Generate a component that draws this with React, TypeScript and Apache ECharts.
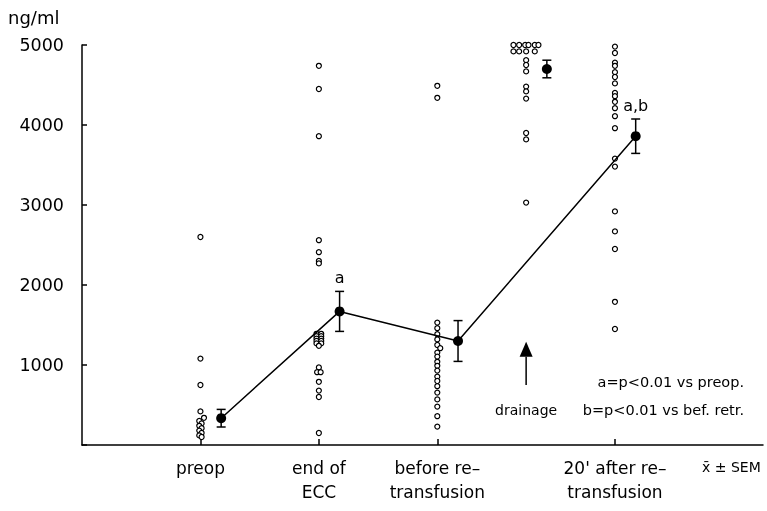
import React, { useEffect, useRef } from "react";
import * as echarts from "echarts";

// ---- data ----
const categories = ["preop", "end of\nECC", "before re–\ntransfusion", "20' after re–\ntransfusion"];
const categoryX = [1, 2, 3, 4.5];
const drainageX = 3.75;
const meanOffset = 0.175;

const preopValues = [2600, 1080, 750, 420, 340, 300, 270, 240, 210, 180, 150, 120, 100];
const preopJitter = [0, 0, 0, 0, 0.03, -0.01, 0.01, -0.01, 0.01, -0.01, 0.01, -0.01, 0.01];

const eccValues = [4740, 4450, 3860, 2560, 2410, 2300, 2270, 1390, 1390, 1360, 1360, 1330, 1330, 1300, 1300, 1270, 1270, 1240, 970, 910, 910, 790, 680, 600, 150];
const eccJitter = [0, 0, 0, 0, 0, 0, 0, -0.02, 0.02, -0.02, 0.02, -0.02, 0.02, -0.02, 0.02, -0.02, 0.02, 0, 0, -0.015, 0.015, 0, 0, 0, 0];

const beforeValues = [4490, 4340, 1530, 1460, 1385, 1320, 1250, 1210, 1155, 1105, 1040, 990, 930, 855, 800, 735, 655, 570, 480, 360, 230];
const beforeJitter = [0, 0, 0, 0, 0, 0, 0, 0.025, 0, 0, 0, 0, 0, 0, 0, 0, 0, 0, 0, 0, 0];

const drainageValues = [5000, 5000, 5000, 5000, 5000, 5000, 4920, 4920, 4920, 4920, 4810, 4750, 4670, 4480, 4420, 4330, 3900, 3820, 3030];
const drainageJitter = [-0.107, -0.059, -0.008, 0.02, 0.073, 0.104, -0.107, -0.059, 0.0, 0.073, 0, 0, 0, 0, 0, 0, 0, 0, 0];

const afterValues = [4980, 4900, 4780, 4740, 4660, 4600, 4520, 4400, 4360, 4290, 4210, 4110, 3960, 3580, 3480, 2920, 2670, 2450, 1790, 1450];
const afterJitter = [0, 0, 0, 0, 0, 0, 0, 0, 0, 0, 0, 0, 0, 0, 0, 0, 0, 0, 0, 0];

const means = [335, 1670, 1300, 3860];
const sems = [110, 250, 255, 215];
const sigLabels = ["", "a", "", "a,b"];
const drainageMean = 4700;
const drainageSem = 110;
const drainageArrow = [1290, 750]; // tip value, tail value

const FONT = "DejaVu Sans";

export default function App() {
  const ref = useRef<HTMLDivElement>(null);
  useEffect(() => {
    if (!ref.current) return;
    const chart = echarts.init(ref.current, null, { renderer: "svg" });

    const mk = (x: number, vals: number[], jit: number[]) => vals.map((v, i) => [x + jit[i], v]);
    const dots = [
      ...mk(categoryX[0], preopValues, preopJitter),
      ...mk(categoryX[1], eccValues, eccJitter),
      ...mk(categoryX[2], beforeValues, beforeJitter),
      ...mk(drainageX, drainageValues, drainageJitter),
      ...mk(categoryX[3], afterValues, afterJitter),
    ];
    const meanLine = categoryX.map((x, i) => [x + meanOffset, means[i]]);
    const errData = [
      ...categoryX.map((x, i) => [x + meanOffset, means[i], sems[i], i]),
      [drainageX + meanOffset, drainageMean, drainageSem, -1],
    ];

    const option: any = {
      animation: false,
      grid: { left: 82, right: 4, top: 45, bottom: 66 },
      xAxis: {
        type: "value",
        min: 0,
        max: 5.75,
        axisLine: { show: true, lineStyle: { color: "#000", width: 1.5 } },
        axisTick: { show: true, inside: true, length: 6, customValues: categoryX, lineStyle: { color: "#000", width: 1.5 } },
        axisLabel: {
          customValues: categoryX,
          formatter: (v: number) => {
            const i = categoryX.findIndex((c) => Math.abs(c - v) < 1e-6);
            return i >= 0 ? categories[i] : "";
          },
          color: "#000",
          fontFamily: FONT,
          fontSize: 17,
          lineHeight: 24,
          margin: 11,
        },
        splitLine: { show: false },
      },
      yAxis: {
        type: "value",
        min: 0,
        max: 5000,
        interval: 1000,
        axisLine: { show: true, lineStyle: { color: "#000", width: 1.5 } },
        axisTick: { show: true, inside: true, length: 5, lineStyle: { color: "#000", width: 1.5 } },
        axisLabel: {
          color: "#000",
          fontFamily: FONT,
          fontSize: 17.5,
          margin: 18,
          formatter: (v: number) => (v === 0 ? "" : String(v)),
        },
        splitLine: { show: false },
      },
      graphic: [
        { type: "text", left: 8, top: 8, style: { text: "ng/ml", font: `18px '${FONT}'`, fill: "#000" } },
        { type: "text", x: 702, y: 467, style: { text: "x̄ ± SEM", font: `14px '${FONT}'`, fill: "#000", textVerticalAlign: "middle" } },
        { type: "text", x: 744, y: 382, style: { text: "a=p<0.01 vs preop.", font: `14.5px '${FONT}'`, fill: "#000", textAlign: "right", textVerticalAlign: "middle" } },
        { type: "text", x: 744, y: 410, style: { text: "b=p<0.01 vs bef. retr.", font: `14.5px '${FONT}'`, fill: "#000", textAlign: "right", textVerticalAlign: "middle" } },
      ],
      series: [
        {
          type: "scatter",
          data: dots,
          symbol: "circle",
          symbolSize: 5,
          itemStyle: { color: "#fff", borderColor: "#000", borderWidth: 1.2, opacity: 1 },
          z: 2,
        },
        {
          type: "custom",
          data: errData,
          z: 3,
          renderItem: (params: any, api: any) => {
            const x = api.value(0);
            const m = api.value(1);
            const s = api.value(2);
            const li = api.value(3);
            const top = api.coord([x, m + s]);
            const bot = api.coord([x, m - s]);
            const hw = 4.5;
            const st = { stroke: "#000", lineWidth: 1.5 };
            const children: any[] = [
              { type: "line", shape: { x1: top[0], y1: top[1], x2: bot[0], y2: bot[1] }, style: st },
              { type: "line", shape: { x1: top[0] - hw, y1: top[1], x2: top[0] + hw, y2: top[1] }, style: st },
              { type: "line", shape: { x1: bot[0] - hw, y1: bot[1], x2: bot[0] + hw, y2: bot[1] }, style: st },
            ];
            const lbl = li >= 0 ? sigLabels[li] : "";
            if (lbl) {
              children.push({
                type: "text",
                x: top[0],
                y: top[1] - 6,
                style: { text: lbl, font: `16px '${FONT}'`, fill: "#000", textAlign: "center", textVerticalAlign: "bottom" },
              });
            }
            return { type: "group", children };
          },
        },
        {
          type: "line",
          data: meanLine,
          symbol: "circle",
          symbolSize: 10,
          itemStyle: { color: "#000" },
          lineStyle: { color: "#000", width: 1.5 },
          z: 4,
        },
        {
          type: "scatter",
          data: [[drainageX + meanOffset, drainageMean]],
          symbol: "circle",
          symbolSize: 10,
          itemStyle: { color: "#000", opacity: 1 },
          z: 4,
        },
        {
          type: "custom",
          data: [[drainageX, drainageArrow[0], drainageArrow[1]]],
          z: 3,
          renderItem: (params: any, api: any) => {
            const x = api.value(0);
            const tip = api.coord([x, api.value(1)]);
            const tail = api.coord([x, api.value(2)]);
            const headH = 15;
            const headW = 6.5;
            return {
              type: "group",
              children: [
                { type: "line", shape: { x1: tip[0], y1: tip[1] + headH, x2: tail[0], y2: tail[1] }, style: { stroke: "#000", lineWidth: 1.5 } },
                {
                  type: "polygon",
                  shape: { points: [[tip[0], tip[1]], [tip[0] - headW, tip[1] + headH], [tip[0] + headW, tip[1] + headH]] },
                  style: { fill: "#000" },
                },
                {
                  type: "text",
                  x: tail[0],
                  y: tail[1] + 25,
                  style: { text: "drainage", font: `14px '${FONT}'`, fill: "#000", textAlign: "center", textVerticalAlign: "middle" },
                },
              ],
            };
          },
        },
      ],
    };
    chart.setOption(option);
    return () => chart.dispose();
  }, []);
  return <div ref={ref} style={{ position: "fixed", left: 0, top: 0, width: 767, height: 511 }} />;
}
